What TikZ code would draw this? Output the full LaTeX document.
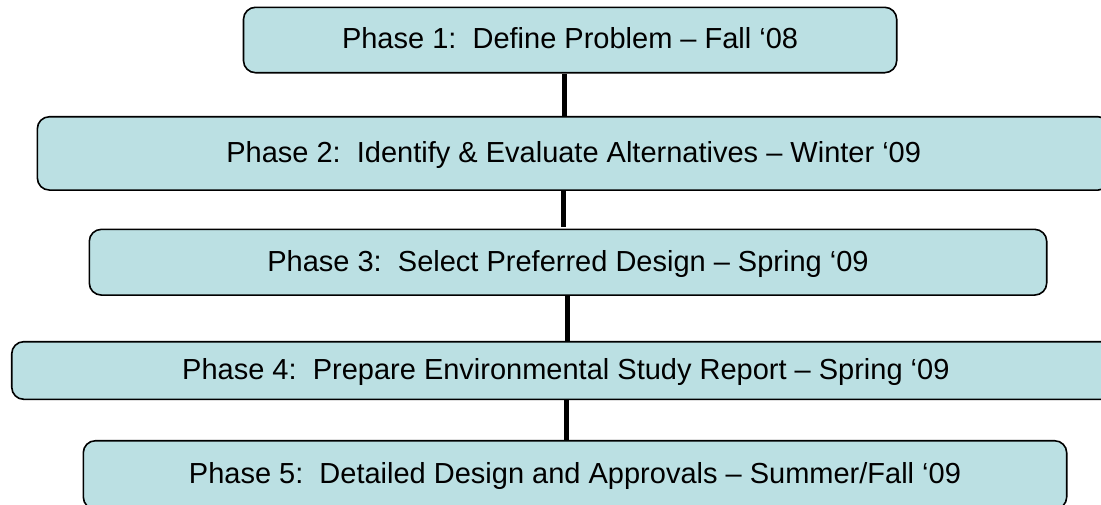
\documentclass[tikz,border=0pt]{standalone}
\usepackage{fontspec}
\setmainfont{Liberation Sans}
\definecolor{phasefill}{RGB}{187,224,227}
\begin{document}
\begin{tikzpicture}[x=1pt,y=-1pt,
  phasebox/.style={draw=black, line width=1.6pt, fill=phasefill,
    rounded corners=12pt, inner sep=0pt, anchor=center,
    font=\fontsize{29}{34}\selectfont, text height=20.8pt, text depth=3pt},
  link/.style={draw=black, line width=5pt}]
\useasboundingbox (0,0) rectangle (1101,504);
\clip (0,0) rectangle (1101,504);

% project phases, top to bottom
\node[phasebox, minimum width=653.2pt, minimum height=65.4pt]
  (b1) at (570.1,40.0) {Phase 1:\ \ Define Problem – Fall ‘08};
\node[phasebox, minimum width=1072.7pt, minimum height=73.3pt]
  (b2) at (573.7,153.4) {Phase 2:\ \ Identify \& Evaluate Alternatives – Winter ‘09};
\node[phasebox, minimum width=957.4pt, minimum height=65.7pt]
  (b3) at (568.0,262.2) {Phase 3:\ \ Select Preferred Design – Spring ‘09};
\node[phasebox, minimum width=1108.3pt, minimum height=57.6pt]
  (b4) at (565.9,370.5) {Phase 4:\ \ Prepare Environmental Study Report – Spring ‘09};
\node[phasebox, minimum width=983.4pt, minimum height=68.3pt]
  (b5) at (575.0,474.9) {Phase 5:\ \ Detailed Design and Approvals – Summer/Fall ‘09};

% vertical links between consecutive phases
\coordinate (x12) at (564.3,0);
\coordinate (x23) at (563.0,0);
\coordinate (x34) at (567.7,0);
\coordinate (x45) at (566.0,0);
\draw[link] (b1.south -| x12) -- (b2.north -| x12);
\draw[link, shorten >=2pt] (b2.south -| x23) -- (b3.north -| x23);
\draw[link] (b3.south -| x34) -- (b4.north -| x34);
\draw[link] (b4.south -| x45) -- (b5.north -| x45);
\end{tikzpicture}
\end{document}
